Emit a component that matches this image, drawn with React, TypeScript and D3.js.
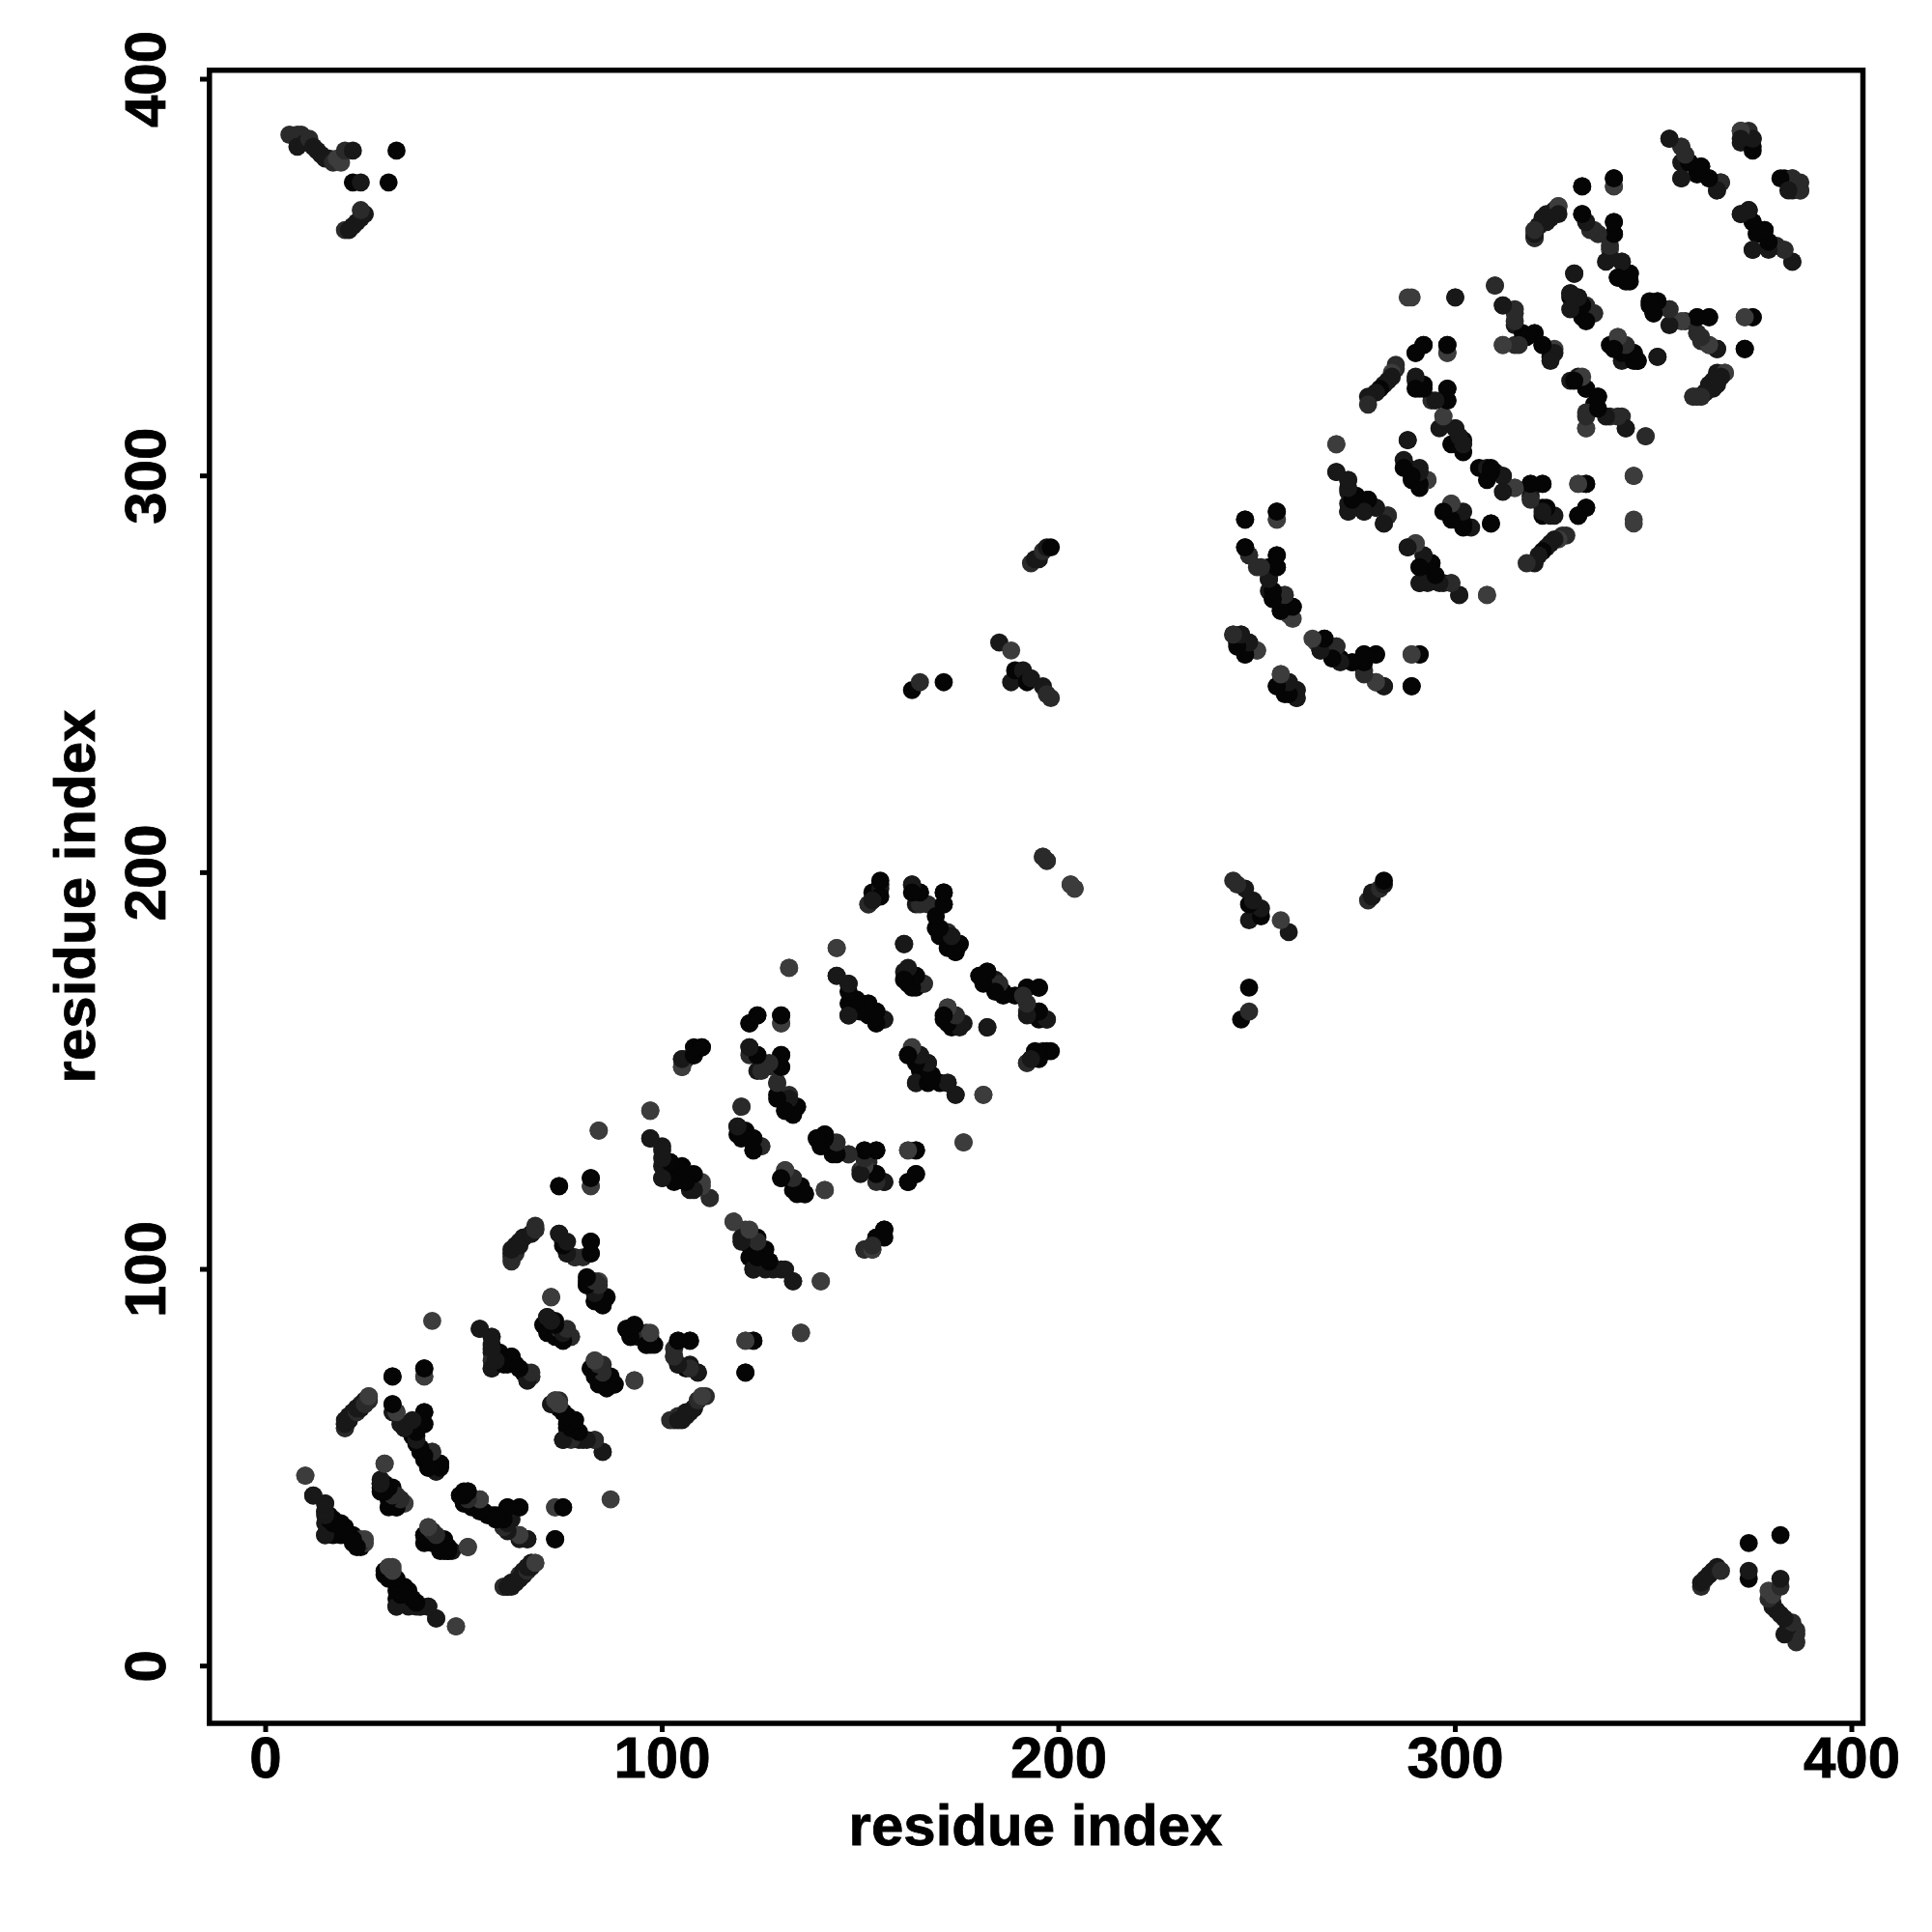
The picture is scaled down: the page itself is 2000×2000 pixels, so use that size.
import React from "react";
import * as d3 from "d3";

type Contact = [number, number, number];

const tickValues = [0, 100, 200, 300, 400];
const axisTitle = "residue index";
const shades = ["#050505", "#181818", "#2a2a2a", "#3c3c3c"];

// Each contact: residue i, residue j (i < j), shade index. The map is symmetric.
const contactsDomain1: Contact[] = [
  [10,48,3],[12,43,1],[15,41,1],[15,39,1],[15,36,1],[15,33,1],[16,38,0],[17,37,0],[18,34,0],[19,36,0],[19,33,0],[20,35,0],[21,33,0],[22,33,0],[22,31,0],[24,30,0],[23,31,0],[24,32,3],[25,31,3],
  [20,60,2],[20,61,1],[21,62,1],[21,63,1],[22,64,1],[23,65,1],[24,66,2],[25,66,1],[25,67,1],[26,67,1],[26,68,3],
  [32,73,0],[40,73,3],[40,75,0],
  [32,66,1],[32,64,1],[33,64,3],[34,61,1],[35,60,2],[36,61,1],[37,60,0],[37,58,0],[40,64,0],[40,61,0],[38,58,0],[38,56,0],[39,54,0],[40,52,0],[41,50,0],[42,54,3],[42,51,2],[43,49,0],[43,50,0],[44,51,0],
  [30,51,3],
  [29,46,0],[29,45,0],[30,44,0],[30,46,0],[31,43,0],[32,45,0],[32,41,0],[33,40,0],[33,43,2],[34,42,2],[35,41,3],
  [49,43,1],[50,44,0],[51,44,0],[52,42,0],[54,42,2],[50,41,0],[53,40,0],[55,39,0],[57,38,1],[59,38,0],[61,40,0],[64,40,0],[60,35,1],[62,37,1],[64,33,3],[66,32,0],
  [73,40,3],[75,40,0],[73,32,0],[87,42,3],
  [41,35,3],[40,33,0],[40,31,0],[42,34,2],[42,31,0],[43,32,2],[44,30,0],[45,31,0],[44,29,0],[46,29,1],[47,29,1],[51,30,3],
  [31,24,2],[32,25,3],[30,23,0],[32,22,0],[33,21,0],[34,20,0],[34,18,0],[35,19,0],[33,17,0],[33,15,1],[36,17,0],[37,16,0],[38,15,1],[39,15,1],[41,15,1],[43,12,1],[48,10,3],
  [60,20,2],[61,20,1],[62,20,1],[62,21,1],[63,21,1],[64,22,1],[64,23,2],[65,23,1],[65,24,1],[66,25,2],[67,26,2],[68,26,3],
];

const contactsDomain2: Contact[] = [
  [54,85,1],[57,83,2],[57,81,1],[57,79,1],[57,77,2],[57,75,1],[59,79,0],[60,77,0],[61,76,0],[62,78,0],[63,76,0],[64,75,0],[65,74,0],[66,72,1],[66,74,3],[67,73,3],
  [71,88,0],[73,87,0],[70,86,0],[71,84,0],[73,83,0],[74,85,2],[75,82,0],[76,84,2],[77,83,3],[72,93,3],
  [81,97,0],[81,96,0],[83,92,0],[84,97,3],[85,91,0],[86,93,0],
  [91,85,0],[92,85,0],[92,83,0],[94,83,1],[96,84,2],[96,81,0],[97,83,2],[98,81,0],
  [83,77,2],[82,75,0],[84,75,1],[85,76,2],[86,73,0],[87,72,1],[88,71,1],[93,72,3],
  [73,67,2],[72,66,1],[74,67,2],[75,64,0],[76,63,0],[78,62,0],[75,57,1],[76,60,0],[77,58,1],[80,57,1],[83,57,1],[85,54,1],
  [62,103,2],[62,104,1],[63,106,1],[64,107,1],[65,108,1],[67,109,2],[68,110,3],
  [74,121,0],[82,123,0],[82,121,3],
  [74,109,1],[75,107,2],[76,104,1],[78,103,2],[80,103,2],[82,107,0],[82,104,0],[84,135,3],
  [97,140,3],[97,133,1],[100,131,1],[100,126,1],[100,123,1],[102,127,0],[105,126,0],[103,124,0],[107,124,2],[107,120,1],[110,122,3],[112,118,3],
  [102,62,2],[104,63,2],[105,62,1],[106,64,1],[108,65,1],[109,67,1],[110,68,2],[111,68,2],
  [103,78,2],[104,76,1],[106,75,0],[107,76,1],[109,74,1],[104,82,0],[107,82,0],
  [121,74,0],[121,82,3],[123,82,0],[135,84,3],[140,97,3],
];

const contactsDomain3: Contact[] = [
  [118,112,2],[121,110,3],[120,108,1],[124,108,0],[122,106,0],[125,105,0],[122,103,0],[123,100,1],[127,102,0],[128,100,1],[130,100,1],[133,97,1],
  [151,105,3],[153,105,1],[154,108,0],[156,110,0],
  [105,151,2],[105,153,3],[108,156,0],[110,156,0],[108,154,0],[106,153,2],
  [122,162,0],[124,164,0],[130,164,0],[130,162,3],
  [122,156,1],[122,154,2],[124,154,0],[126,151,3],[124,150,1],[128,151,2],[130,154,0],[130,151,0],[129,147,2],[129,144,0],[132,144,2],[131,140,0],[133,141,0],[134,141,0],[133,139,0],
  [120,141,3],[119,136,0],[119,134,0],[121,135,0],[120,133,0],[123,133,2],[125,131,3],[123,130,0],
  [132,176,3],[144,181,3],[144,174,1],[147,172,1],[147,164,1],[147,167,0],[148,168,0],[150,167,0],[152,167,1],[152,164,0],[154,165,1],[156,163,3],[154,162,0],
  [155,197,0],[154,195,0],[153,195,0],[152,192,2],[153,193,1],
  [163,197,1],[165,195,0],[164,192,1],[167,192,2],[171,195,0],[171,192,0],[169,191,2],[169,186,0],[172,185,2],[170,184,0],[175,182,0],[172,181,0],[174,180,0],
  [161,182,1],[161,175,1],[162,172,0],[164,174,2],[166,172,3],[164,171,0],
  [172,166,2],[171,163,0],[174,164,0],[176,162,1],[173,161,0],[182,161,1],
  [180,174,0],[182,175,0],[184,173,1],[186,170,0],[189,169,0],[192,171,0],[195,171,0],[192,165,2],[195,165,0],[197,163,1],[195,163,0],
  [196,155,1],[198,155,0],[194,155,0],[192,152,2],[193,153,1],
  [163,156,1],[162,154,0],[165,154,0],[167,152,0],[165,150,0],[164,147,1],[168,149,0],[170,147,0],[172,147,1],[174,144,1],[181,144,3],[176,132,3],
  [139,133,0],[141,134,0],[143,132,1],[140,131,0],[143,129,0],[147,129,2],[151,130,0],[154,130,0],[150,125,2],[152,127,2],[154,124,0],[156,122,1],[162,130,3],[164,130,0],[162,122,0],[164,124,0],
  [141,120,2],[131,125,2],[130,123,0],[133,123,0],[134,121,0],[136,119,1],
  [196,204,3],[197,203,3],[203,197,2],[204,196,2],
];

const contactsDomain4: Contact[] = [
  [163,246,0],[165,248,2],[171,248,0],[185,258,1],[188,256,3],[188,248,1],[189,251,0],[191,251,1],[192,248,0],[193,249,1],[196,247,1],[197,245,2],[198,244,2],
  [193,278,2],[194,279,1],[195,279,1],[196,281,2],[197,282,1],[198,282,0],
  [247,289,0],[255,291,0],[255,289,3],
  [247,282,1],[248,280,3],[250,277,2],[253,277,0],[255,280,0],[255,277,0],[253,274,0],[253,271,1],[257,270,2],[254,269,0],[256,266,1],[259,267,0],[259,264,3],
  [244,260,1],[246,260,1],[245,258,0],[248,258,1],[247,255,0],[250,256,3],
  [265,258,3],[267,259,0],[266,256,0],[270,257,2],[269,254,0],[271,254,0],[274,253,1],[277,255,0],[280,255,0],[277,251,2],[280,248,2],[282,247,0],[289,255,3],[291,255,0],[289,247,0],
  [256,250,3],[255,247,0],[258,248,1],[257,245,0],[260,246,1],[260,244,2],
  [270,301,1],[273,299,2],[273,296,1],[273,293,1],[273,291,1],[275,295,0],[278,294,0],[280,292,1],[283,290,3],[282,288,1],[277,291,0],[270,308,3],
  [288,302,0],[291,302,1],[289,299,0],[293,299,3],[291,297,0],[288,309,0],
  [306,302,0],[308,302,1],[310,301,1],[312,300,1],[315,297,3],[319,298,0],[322,298,0],[319,295,1],[322,292,0],[325,290,1],[322,290,0],[331,298,3],[333,298,0],[331,290,0],[333,292,0],
  [299,293,3],[298,291,0],[301,291,1],[300,289,0],[304,287,1],[302,287,0],[309,288,1],
  [290,283,2],[288,282,1],[292,280,1],[294,278,0],[291,277,1],[291,273,1],[294,274,0],[297,273,1],[299,273,1],[301,270,1],[308,270,3],
  [328,285,2],[327,285,2],[326,284,3],[325,284,1],[324,283,1],[323,282,1],[322,281,0],[321,280,1],[320,278,1],[318,278,2],
  [345,300,1],[345,289,3],
];

const contactsDomain5: Contact[] = [
  [6,386,2],[8,386,2],[9,386,2],[8,383,1],[10,384,1],[11,385,2],[12,383,1],[13,382,1],[14,381,1],[15,380,1],[16,380,1],[17,379,2],[18,380,3],[19,379,3],[20,382,2],[22,382,1],[33,382,0],[22,374,0],[24,374,1],[31,374,0],[20,362,2],[21,362,1],[22,363,1],[23,364,1],[24,365,1],[25,366,1],[24,367,2],
  [354,385,1],[357,383,2],[357,375,1],[357,379,1],[359,379,0],[362,378,0],[364,375,0],[366,372,1],[367,374,1],
  [372,387,2],[374,387,2],[375,385,2],[375,382,0],[372,384,1],
  [383,375,0],[385,375,1],[387,372,3],[385,372,1],
  [374,367,2],[372,366,1],[375,364,0],[378,362,0],[376,361,0],[375,357,1],[379,359,0],[381,358,2],[383,357,2],[385,354,1],
  [332,373,0],[340,375,0],[340,373,3],
  [326,368,3],[325,367,1],[324,366,1],[323,366,1],[322,365,1],[321,363,1],[320,362,2],[320,360,2],
  [332,366,1],[333,364,3],[336,361,2],[335,362,2],[340,364,0],[340,361,0],[339,357,3],[338,354,1],[342,354,2],[344,351,0],[341,350,0],[344,349,0],
  [330,351,1],[329,346,0],[329,345,0],[331,345,0],[331,342,0],[333,343,2],[335,341,3],[332,340,0],
  [288,345,3],[300,345,3],[310,348,2],
  [312,343,1],[315,341,2],[312,333,3],[315,333,2],[315,338,1],[317,336,0],[320,336,0],[322,333,0],[325,332,3],[324,330,0],
  [292,333,0],[290,331,0],[298,333,0],[298,331,3],
  [290,324,1],[292,323,0],[291,322,1],[294,319,2],[298,322,0],[298,319,0],[297,315,3],[296,312,1],[300,312,1],[301,309,0],[299,308,0],[302,309,0],
  [341,335,2],[339,333,0],[343,332,0],[345,331,1],[346,329,1],[342,329,1],[351,330,1],
  [331,325,1],[329,324,1],[333,322,0],[336,320,0],[335,318,0],[333,316,2],[333,312,3],[339,315,2],[342,315,2],[343,312,1],[348,310,2],
  [368,326,3],[366,326,1],[365,324,1],[364,323,1],[363,321,1],[360,320,2],[361,320,1],[362,320,2],
  [349,343,0],[351,344,0],[354,342,1],[350,341,0],[355,339,1],[358,339,2],[361,340,0],[364,340,0],[361,336,2],[362,334,2],[364,333,1],[366,332,0],[373,340,3],[375,340,0],[373,332,0],
];

const allContacts = [
  ...contactsDomain1,
  ...contactsDomain2,
  ...contactsDomain3,
  ...contactsDomain4,
  ...contactsDomain5,
];

const font = "'Liberation Sans', Arial, sans-serif";

export default function App() {
  const x = d3.scaleLinear().domain([0, 400]).range([275, 1917]);
  const y = d3.scaleLinear().domain([0, 400]).range([1724.7, 82]);
  const left = 216.8, right = 1928.5, top = 72.7, bottom = 1784;
  return (
    <svg
      width={2000}
      height={2000}
      viewBox="0 0 2000 2000"
      style={{ position: "absolute", left: 0, top: 0, display: "block", background: "#fff" }}
    >
      <g>
        {allContacts.map(([i, j, s], k) => (
          <circle key={`a${k}`} cx={x(i)} cy={y(j)} r={9.4} fill={shades[s]} />
        ))}
        {allContacts.map(([i, j, s], k) => (
          <circle key={`b${k}`} cx={x(j)} cy={y(i)} r={9.4} fill={shades[s]} />
        ))}
      </g>
      <rect x={left} y={top} width={right - left} height={bottom - top} fill="none" stroke="#000" strokeWidth={5.5} />
      {tickValues.map((t) => (
        <g key={t}>
          <line x1={x(t)} x2={x(t)} y1={bottom} y2={1793} stroke="#000" strokeWidth={5} />
          <text x={x(t)} y={1840} textAnchor="middle" fontFamily={font} fontWeight="bold" fontSize={60} fill="#000" stroke="#000" strokeWidth={0.8}>{t}</text>
          <line x1={207} x2={left} y1={y(t)} y2={y(t)} stroke="#000" strokeWidth={5} />
          <text transform={`translate(171,${y(t)}) rotate(-90)`} textAnchor="middle" fontFamily={font} fontWeight="bold" fontSize={60} fill="#000" stroke="#000" strokeWidth={0.8}>{t}</text>
        </g>
      ))}
      <text x={1072} y={1910} textAnchor="middle" fontFamily={font} fontWeight="bold" fontSize={60} fill="#000" stroke="#000" strokeWidth={0.8}>{axisTitle}</text>
      <text transform="translate(98,928) rotate(-90)" textAnchor="middle" fontFamily={font} fontWeight="bold" fontSize={60} fill="#000" stroke="#000" strokeWidth={0.8}>{axisTitle}</text>
    </svg>
  );
}
